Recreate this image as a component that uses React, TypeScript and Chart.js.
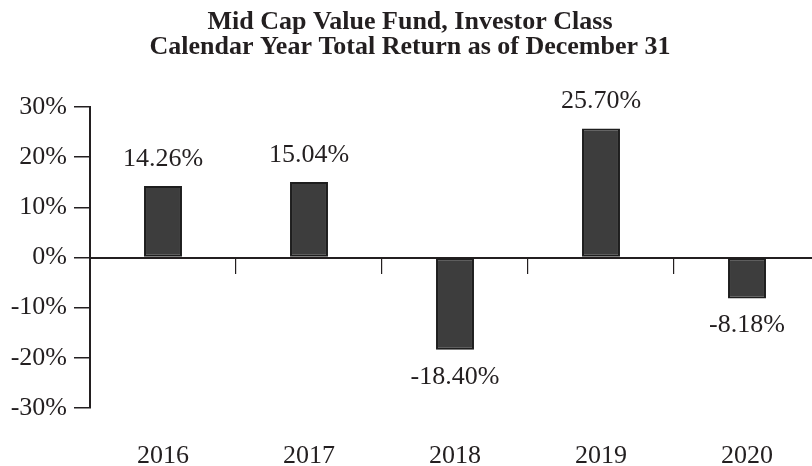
import React, { useEffect, useRef } from "react";
import { Chart, registerables } from "chart.js";

Chart.register(...registerables);

const titleLines = ["Mid Cap Value Fund, Investor Class", "Calendar Year Total Return as of December 31"];
const years = ["2016", "2017", "2018", "2019", "2020"];
const returns = [14.26, 15.04, -18.4, 25.7, -8.18];
const yMin = -30;
const yMax = 30;
const yStep = 10;

const SERIF = "'Liberation Serif', 'Times New Roman', serif";
const INK = "#231f20";

const valueLabels = {
  id: "valueLabels",
  afterDatasetsDraw(chart: any) {
    const ctx = chart.ctx;
    const meta = chart.getDatasetMeta(0);
    ctx.save();
    ctx.font = `26px ${SERIF}`;
    ctx.fillStyle = INK;
    ctx.textAlign = "center";
    ctx.textBaseline = "middle";
    meta.data.forEach((bar: any, i: number) => {
      const v = returns[i];
      const y = v >= 0 ? bar.y - 27 : bar.y + 27;
      ctx.fillText(v.toFixed(2) + "%", bar.x, y);
    });
    ctx.restore();
  },
};

export default function App() {
  const ref = useRef<HTMLCanvasElement | null>(null);
  useEffect(() => {
    if (!ref.current) return;
    const chart = new Chart(ref.current, {
      type: "bar",
      data: {
        labels: years,
        datasets: [
          {
            data: returns,
            backgroundColor: "#3d3d3d",
            borderColor: "#1e1e1e",
            borderWidth: 2,
            borderSkipped: false,
            barPercentage: 0.26,
            categoryPercentage: 1,
          },
        ],
      },
      options: {
        animation: false,
        responsive: false,
        maintainAspectRatio: false,
        layout: { padding: { left: 0, right: 10, top: 0, bottom: 0 } },
        plugins: {
          legend: { display: false },
          tooltip: { enabled: false },
          title: {
            display: true,
            text: titleLines,
            color: INK,
            font: { family: SERIF, size: 26, weight: "bold", lineHeight: "25px" },
            padding: { top: 9.5, bottom: 47.5 },
          },
        },
        scales: {
          x: {
            type: "category",
            position: "bottom",
            offset: true,
            afterFit: (scale: any) => {
              scale.height = 58;
            },
            grid: { display: false, drawTicks: false },
            border: { display: false },
            ticks: { color: INK, font: { family: SERIF, size: 26 }, padding: 33 },
          },
          x2: {
            type: "category",
            position: { y: 0 } as any,
            offset: true,
            grid: {
              offset: true,
              drawOnChartArea: false,
              drawTicks: true,
              tickLength: 15,
              color: INK,
              lineWidth: 1.2,
            },
            ticks: { display: false },
            border: { display: true, color: INK, width: 2 },
          },
          y: {
            min: yMin,
            max: yMax,
            afterFit: (scale: any) => {
              scale.width = 90;
            },
            ticks: {
              stepSize: yStep,
              color: INK,
              font: { family: SERIF, size: 26 },
              padding: 7,
              callback: (v: any) => v + "%",
            },
            grid: {
              drawOnChartArea: false,
              drawTicks: true,
              tickLength: 16,
              color: INK,
              lineWidth: 1.5,
            },
            border: { display: true, color: INK, width: 2 },
          },
        },
      },
      plugins: [valueLabels],
    });
    return () => chart.destroy();
  }, []);
  return (
    <div
      style={{
        position: "fixed",
        left: 0,
        top: 0,
        width: 812,
        height: 466,
        overflow: "hidden",
        background: "#fff",
      }}
    >
      <canvas ref={ref} width={830} height={466} style={{ width: 830, height: 466, display: "block" }} />
    </div>
  );
}
